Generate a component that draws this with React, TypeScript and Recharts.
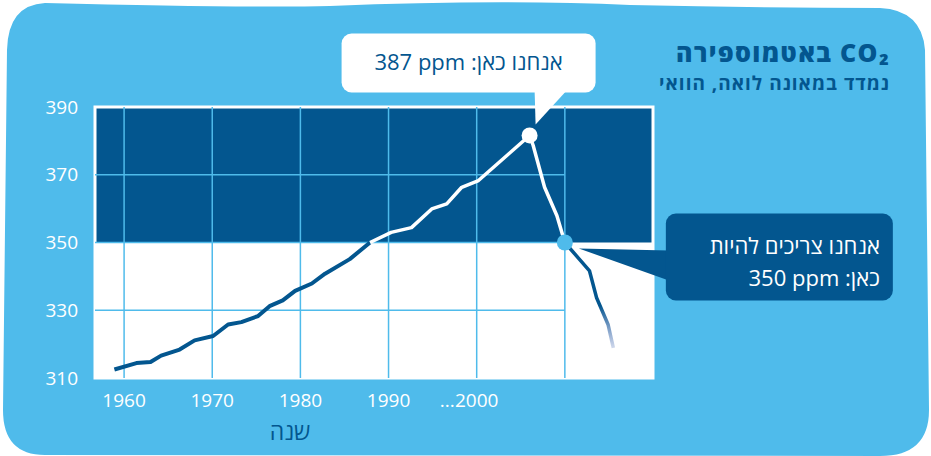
import React from 'react';
import { LineChart, Line, XAxis, YAxis, ReferenceArea, ReferenceLine, ReferenceDot } from 'recharts';

const LIGHT = '#4FBBEB';
const DARK = '#03568F';
const FONT = '"Open Sans", "DejaVu Sans", sans-serif';
const LRM = '\u200E';

const yearTicks = [1960, 1970, 1980, 1990, 2000];
const gridYears = [1960, 1970, 1980, 1990, 2000, 2010];
const valueTicks = [310, 330, 350, 370, 390];
const gridValues = [330, 350, 370];

const riseBelowYears = [1958.9, 1961.4, 1963.0, 1964.2, 1966.3, 1968.0, 1970.1, 1971.8, 1973.3, 1975.2, 1976.5, 1978.0, 1979.4, 1981.3, 1982.8, 1985.6, 1987.9];
const riseBelowPpm = [312.5, 314.4, 314.7, 316.6, 318.4, 321.1, 322.4, 325.8, 326.5, 328.3, 331.2, 332.9, 335.7, 337.9, 340.8, 345.1, 350];

const riseAboveYears = [1987.9, 1990.3, 1992.6, 1994.9, 1996.6, 1998.3, 2000.2, 2006.0];
const riseAbovePpm = [350, 353, 354.4, 359.9, 361.4, 366.3, 368.3, 381.6];

const fallAboveYears = [2006.0, 2006.4, 2007.7, 2009.1, 2010.0];
const fallAbovePpm = [381.6, 378.7, 366.3, 357.9, 350];

const fallBelowYears = [2010.0, 2012.8, 2013.6, 2014.9, 2015.5];
const fallBelowPpm = [350, 341.6, 333.7, 325.8, 318.9];

const peak = { year: 2006.0, ppm: 381.6 };
const target = { year: 2010.0, ppm: 350 };

const X_DOMAIN: [number, number] = [1956.7, 2020];
const Y_DOMAIN: [number, number] = [310, 390];

const zip = (xs: number[], ys: number[]) => xs.map((year, i) => ({ year, v: ys[i] }));

const YearTick = (props: any) => {
  const { x, y, payload } = props;
  const v = payload.value;
  return (
    <g>
      <text x={x} y={y} dy="0.71em" textAnchor="middle" fill="#fff" fontSize={19} fontFamily={FONT}>
        {v}
      </text>
      {v === 2000 && (
        <text x={x - 22} y={y} dy="0.71em" textAnchor="end" fill="#fff" fontSize={19} fontFamily={FONT}>
          ...
        </text>
      )}
    </g>
  );
};

const PeakCallout = (props: any) => {
  const { cx, cy } = props;
  return (
    <g>
      <path d={`M${cx + 5},${cy - 46} L${cx + 38},${cy - 46} L${cx + 6},${cy - 11} Z`} fill="#fff" />
      <rect x={cx - 188} y={cy - 102} width={254} height={59} rx={10} fill="#fff" />
      <text x={cx - 61} y={cy - 65} textAnchor="middle" direction="rtl" fill={DARK} fontSize={22} fontFamily={FONT}>
        {`אנחנו כאן: ${LRM}387 ppm`}
      </text>
      <circle cx={cx} cy={cy} r={8} fill="#fff" />
    </g>
  );
};

const TargetCallout = (props: any) => {
  const { cx, cy } = props;
  return (
    <g>
      <path d={`M${cx + 14},${cy + 6} L${cx + 104},${cy + 8} L${cx + 104},${cy + 38} Z`} fill={DARK} />
      <rect x={cx + 101} y={cy - 29} width={227} height={87} rx={10} fill={DARK} />
      <text x={cx + 315} y={cy + 11} textAnchor="start" direction="rtl" fill="#fff" fontSize={22} fontFamily={FONT}>
        אנחנו צריכים להיות
      </text>
      <text x={cx + 315} y={cy + 43} textAnchor="start" direction="rtl" fill="#fff" fontSize={22} fontFamily={FONT}>
        {`כאן: ${LRM}350 ppm`}
      </text>
      <circle cx={cx} cy={cy} r={8} fill={LIGHT} />
    </g>
  );
};

export default function App() {
  return (
    <div style={{ position: 'absolute', left: 0, top: 0, width: 931, height: 456, fontFamily: FONT }}>
      <svg width={931} height={456} style={{ position: 'absolute', left: 0, top: 0 }}>
        <path
          d="M45,3 Q250,8 330,6 Q500,-1 630,5 Q760,8 880,8 Q922,10 925,50 L929,410 Q929,456 880,456 L45,455 Q3,455 3,410 L7,50 Q8,5 45,3 Z"
          fill={LIGHT}
        />
        <text x={890} y={62} textAnchor="start" direction="rtl" fill={DARK} fontSize={25} fontWeight={800} letterSpacing={1.3} fontFamily={FONT}>
          CO₂ באטמוספירה
        </text>
        <text x={890} y={90} textAnchor="start" direction="rtl" fill={DARK} fontSize={19} fontWeight={700} letterSpacing={1} fontFamily={FONT}>
          נמדד במאונה לואה, הוואי
        </text>
        <text x={290} y={440} textAnchor="middle" direction="rtl" fill={DARK} fontSize={23} fontFamily={FONT}>
          שנה
        </text>
      </svg>
      <div style={{ position: 'absolute', left: 0, top: 0 }}>
        <LineChart width={931} height={456} margin={{ top: 107, right: 278, bottom: 38, left: 0 }}>
          <defs>
            <linearGradient id="fadeTail" x1="0" y1="0" x2="0" y2="1">
              <stop offset="0" stopColor={DARK} stopOpacity={1} />
              <stop offset="0.6" stopColor={DARK} stopOpacity={1} />
              <stop offset="1" stopColor="#3F63B0" stopOpacity={0.25} />
            </linearGradient>
          </defs>
          <XAxis
            xAxisId="x"
            type="number"
            dataKey="year"
            domain={X_DOMAIN}
            ticks={yearTicks}
            interval={0}
            allowDataOverflow
            axisLine={false}
            tickLine={false}
            tickSize={0}
            tickMargin={16}
            height={40}
            tick={<YearTick />}
          />
          <YAxis
            yAxisId="y"
            type="number"
            domain={Y_DOMAIN}
            ticks={valueTicks}
            interval={0}
            allowDataOverflow
            width={95}
            axisLine={false}
            tickLine={false}
            tickSize={0}
            tickMargin={17}
            tick={{ fill: '#fff', fontSize: 19, fontFamily: FONT }}
          />
          <ReferenceArea xAxisId="x" yAxisId="y" x1={X_DOMAIN[0]} x2={X_DOMAIN[1]} y1={Y_DOMAIN[0]} y2={Y_DOMAIN[1]} fill="#fff" fillOpacity={1} stroke="none" />
          <ReferenceArea xAxisId="x" yAxisId="y" x1={X_DOMAIN[0]} x2={X_DOMAIN[1]} y1={350} y2={Y_DOMAIN[1]} fill={DARK} fillOpacity={1} stroke="none" />
          {gridYears.map((yr) => (
            <ReferenceLine key={'gx' + yr} xAxisId="x" yAxisId="y" x={yr} stroke={LIGHT} strokeWidth={1.5} />
          ))}
          {gridValues.map((v) => (
            <ReferenceLine
              key={'gy' + v}
              xAxisId="x"
              yAxisId="y"
              segment={[{ x: X_DOMAIN[0], y: v }, { x: 2010, y: v }]}
              stroke={LIGHT}
              strokeWidth={1.5}
            />
          ))}
          <ReferenceArea xAxisId="x" yAxisId="y" x1={X_DOMAIN[0]} x2={X_DOMAIN[1]} y1={Y_DOMAIN[0]} y2={Y_DOMAIN[1]} fill="none" stroke="#fff" strokeWidth={3} />
          <Line xAxisId="x" yAxisId="y" data={zip(riseBelowYears, riseBelowPpm)} dataKey="v" type="linear" stroke={DARK} strokeWidth={4} dot={false} strokeLinejoin="round" isAnimationActive={false} />
          <Line xAxisId="x" yAxisId="y" data={zip(riseAboveYears, riseAbovePpm)} dataKey="v" type="linear" stroke="#fff" strokeWidth={3.5} dot={false} strokeLinejoin="round" isAnimationActive={false} />
          <Line xAxisId="x" yAxisId="y" data={zip(fallAboveYears, fallAbovePpm)} dataKey="v" type="linear" stroke="#fff" strokeWidth={3.5} dot={false} strokeLinejoin="round" isAnimationActive={false} />
          <Line xAxisId="x" yAxisId="y" data={zip(fallBelowYears, fallBelowPpm)} dataKey="v" type="linear" stroke="url(#fadeTail)" strokeWidth={3.5} dot={false} strokeLinejoin="round" isAnimationActive={false} />
          <ReferenceDot xAxisId="x" yAxisId="y" x={peak.year} y={peak.ppm} r={8} shape={PeakCallout} />
          <ReferenceDot xAxisId="x" yAxisId="y" x={target.year} y={target.ppm} r={8} shape={TargetCallout} />
        </LineChart>
      </div>
    </div>
  );
}
